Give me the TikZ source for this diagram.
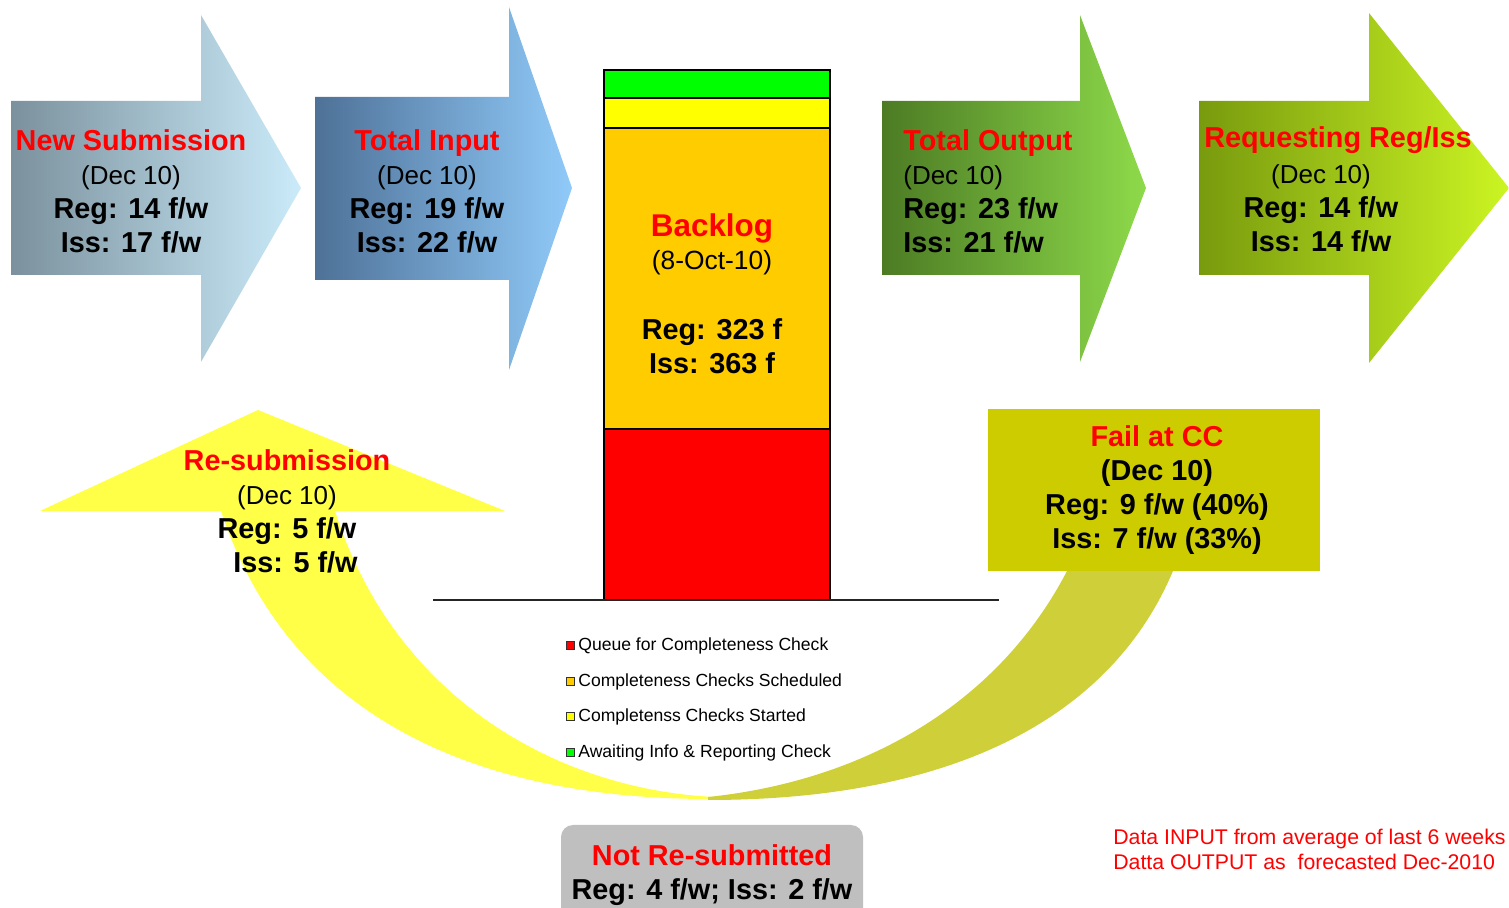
\documentclass[tikz,border=0pt]{standalone}
\usepackage{fontspec}
\setmainfont{Liberation Sans}
\definecolor{aAl}{HTML}{7B919D}
\definecolor{aAr}{HTML}{CBEBFA}
\definecolor{aBl}{HTML}{4E7197}
\definecolor{aBr}{HTML}{90CAF9}
\definecolor{aCl}{HTML}{4C7B24}
\definecolor{aCr}{HTML}{8EDA4A}
\definecolor{aDl}{HTML}{789A0E}
\definecolor{aDr}{HTML}{CCF523}
\definecolor{curveY}{HTML}{FFFF47}
\definecolor{curveO}{HTML}{CFCF3A}
\definecolor{failbox}{HTML}{CCCC00}
\definecolor{barG}{HTML}{00FF00}
\definecolor{barY}{HTML}{FFFF00}
\definecolor{barO}{HTML}{FFCC00}
\definecolor{barR}{HTML}{FF0000}
\definecolor{greybox}{HTML}{BFBFBF}
\newcommand\ttl[1]{{\color{red}#1}}
\newcommand\dtx[1]{{\fontsize{14.8}{19.4}\selectfont\mdseries #1}}
\begin{document}
\begin{tikzpicture}[x=0.02cm,y=-0.02cm,
  txt/.style={align=center,inner sep=0pt,font=\fontsize{16.4}{19.4}\selectfont\bfseries},
  txtl/.style={align=left,inner sep=0pt,anchor=west,font=\fontsize{16.4}{19.4}\selectfont\bfseries},
  legsq/.style={draw=black!80,line width=0.5pt},
  legtxt/.style={anchor=west,inner sep=0pt,font=\fontsize{10}{11}\selectfont},
  barseg/.style={draw=black,line width=0.8pt}]
\path[use as bounding box] (0,0) rectangle (1509,908);
\clip (0,0) rectangle (1509,908);
% straight arrows
\shade[left color=aAl,right color=aAr] (11,101) -- (201,101) -- (201,15) -- (301,188) -- (201,362) -- (201,275) -- (11,275) -- cycle;
\shade[left color=aBl,right color=aBr] (315,97) -- (509,97) -- (509,7) -- (572,188) -- (509,370) -- (509,280) -- (315,280) -- cycle;
\shade[left color=aCl,right color=aCr] (882,101) -- (1080,101) -- (1080,15) -- (1146,188) -- (1080,362) -- (1080,275) -- (882,275) -- cycle;
\shade[left color=aDl,right color=aDr] (1199,101) -- (1369,101) -- (1369,13) -- (1509,188) -- (1369,363) -- (1369,275) -- (1199,275) -- cycle;
% curved yellow arrow (re-submission)
\fill[curveY] (40,511) -- (258,410) -- (505,511) -- (335,511)
  .. controls (395,700) and (560,790) .. (715,797)
  .. controls (715,798) .. (715,799)
  .. controls (480,800) and (290,720) .. (221,511) -- cycle;
% curved olive arrow (fail at CC)
\fill[curveO] (1067,571) -- (1173,571)
  .. controls (1110,720) and (950,800) .. (708,800)
  .. controls (708,799) .. (708,797)
  .. controls (870,780) and (1000,700) .. (1067,571) -- cycle;
% fail box
\node[fill=failbox,minimum width=332*0.02cm,minimum height=162*0.02cm,inner sep=0pt] (failbox) at (1154,490) {};
% bar
\draw[barseg,fill=barR] (604,429) rectangle (830,600);
\draw[barseg,fill=barO] (604,128) rectangle (830,429);
\draw[barseg,fill=barY] (604,98) rectangle (830,128);
\draw[barseg,fill=barG] (604,70) rectangle (830,98);
\draw[line width=1.2pt,black!85] (433,600) -- (999,600);
% legend
\draw[legsq,fill=barR] (566,641) rectangle (574,649);
\draw[legsq,fill=barO] (566,677) rectangle (574,685);
\draw[legsq,fill=barY] (566,712) rectangle (574,720);
\draw[legsq,fill=barG] (566,748) rectangle (574,756);
\node[legtxt] (leg1) at (578,646) {Queue for Completeness Check};
\node[legtxt] (leg2) at (578,682) {Completeness Checks Scheduled};
\node[legtxt] (leg3) at (578,717) {Completenss Checks Started};
\node[legtxt] (leg4) at (578,753) {Awaiting Info \& Reporting Check};
% grey box
\draw[fill=greybox,draw=none,rounded corners=12*0.02cm] (561,825) rectangle (863,940);
% texts
\node[txt] (nsub) at (131,191) {\ttl{New Submission}\\\dtx{(Dec 10)}\\Reg: 14 f/w\\Iss: 17 f/w};
\node[txt] (tin) at (427,191) {\ttl{Total Input}\\\dtx{(Dec 10)}\\Reg: 19 f/w\\Iss: 22 f/w};
\node[txtl] (tout) at (903,191) {\ttl{Total Output}\\\dtx{(Dec 10)}\\Reg: 23 f/w\\Iss: 21 f/w};
\node[txt] (reqt) at (1338,140) {\ttl{Requesting Reg/Iss}};
\node[txt] (reqb) at (1321,208) {\dtx{(Dec 10)}\\Reg: 14 f/w\\Iss: 14 f/w};
\node[txt,font=\fontsize{17.9}{19.4}\selectfont\bfseries] (blt) at (712,228) {\ttl{Backlog}};
\node[txt,font=\fontsize{15}{19.4}\selectfont] (bld) at (712,263) {(8-Oct-10)};
\node[txt] (blv) at (712,346) {Reg: 323 f\\Iss: 363 f};
\node[txt] (resub) at (287,511) {\ttl{Re-submission}\\\dtx{(Dec 10)}\\Reg: 5 f/w\\\hspace*{24\pgflinewidth}Iss: 5 f/w};
\node[txt] (failt) at (1157,490) {\ttl{Fail at CC}\\(Dec 10)\\Reg: 9 f/w (40\%)\\Iss: 7 f/w (33\%)};
\node[txt] (notres) at (712,875) {\ttl{Not Re-submitted}\\Reg: 4 f/w; Iss: 2 f/w};
\node[anchor=west,align=left,inner sep=0pt,text=red,font=\fontsize{12.1}{14.2}\selectfont] (note) at (1113,849) {Data INPUT from average of last 6 weeks\\Datta OUTPUT as\ \ forecasted Dec-2010};
\end{tikzpicture}
\end{document}
